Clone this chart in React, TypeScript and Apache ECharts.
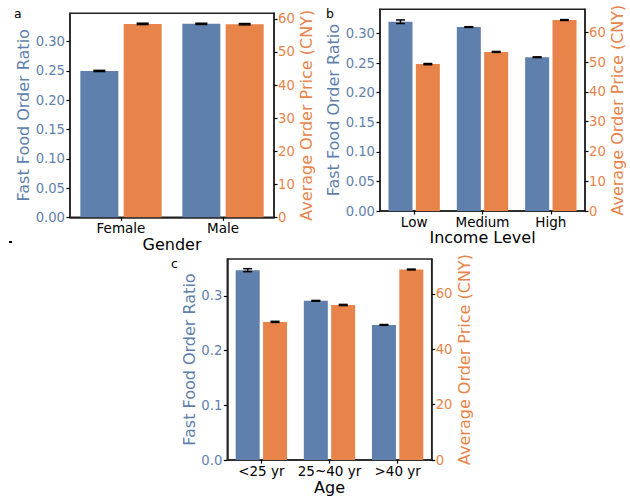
import React, { useEffect, useRef } from "react";
import * as echarts from "echarts";

// ---- data ----
const genderCats = ["Female", "Male"];
const genderRatio = [0.25, 0.3305];
const genderRatioErr = [0.001, 0.001];
const genderPrice = [58.5, 58.4];
const genderPriceErr = [0.2, 0.2];

const incomeCats = ["Low", "Medium", "High"];
const incomeRatio = [0.32, 0.311, 0.26];
const incomeRatioErr = [0.003, 0.0006, 0.0006];
const incomePrice = [49.3, 53.4, 64.1];
const incomePriceErr = [0.2, 0.15, 0.15];

const ageCats = ["<25 yr", "25~40 yr", ">40 yr"];
const ageRatio = [0.347, 0.291, 0.247];
const ageRatioErr = [0.0027, 0.0007, 0.0007];
const agePrice = [49.9, 56.0, 68.8];
const agePriceErr = [0.2, 0.2, 0.15];

const leftTicks = { a: 0.05, b: 0.05, c: 0.1 };
const rightTicks = { a: 10, b: 10, c: 20 };

const BLUE = "#5f7fac";
const ORANGE = "#e8844a";
const FONT = "DejaVu Sans";
const GAP = 0.14;

export default function App() {
  const ref = useRef<HTMLDivElement>(null);
  useEffect(() => {
    if (!ref.current) return;
    const chart = echarts.init(ref.current, null, { renderer: "svg" });

    const panels = [
      {
        key: "a", cats: genderCats, ratio: genderRatio, rErr: genderRatioErr, price: genderPrice, pErr: genderPriceErr,
        grid: { left: 70, top: 13.3, width: 204, height: 204 }, lmax: 0.3485, rmax: 61.7, xname: "Gender",
        bw: 38, cap: 12, lgap: 38, rgap: 22, xgap: 17, dec: 2,
      },
      {
        key: "b", cats: incomeCats, ratio: incomeRatio, rErr: incomeRatioErr, price: incomePrice, pErr: incomePriceErr,
        grid: { left: 380, top: 9.3, width: 205, height: 201.7 }, lmax: 0.341, rmax: 67.7, xname: "Income Level",
        bw: 24, cap: 9, lgap: 37, rgap: 22, xgap: 17, dec: 2,
      },
      {
        key: "c", cats: ageCats, ratio: ageRatio, rErr: ageRatioErr, price: agePrice, pErr: agePriceErr,
        grid: { left: 227.3, top: 259, width: 204.4, height: 201.7 }, lmax: 0.3674, rmax: 72.6, xname: "Age",
        bw: 24, cap: 9, lgap: 29, rgap: 21, xgap: 16.5, dec: 1,
      },
    ];

    const grid: any[] = [];
    const xAxis: any[] = [];
    const yAxis: any[] = [];
    const series: any[] = [];

    const errSeries = (xi: number, yi: number, vals: number[], errs: number[], side: number, bw: number, cap: number) => ({
      type: "custom",
      xAxisIndex: xi,
      yAxisIndex: yi,
      z: 5,
      data: vals.map((v, i) => [i, v, errs[i]]),
      renderItem: (params: any, api: any) => {
        const idx = api.value(0);
        const v = api.value(1);
        const e = api.value(2);
        const c = api.coord([idx, v]);
        const x = c[0] + (side * bw * (1 + GAP)) / 2;
        const t = api.coord([idx, v + e])[1];
        const b = api.coord([idx, v - e])[1];
        const st = { stroke: "#000", lineWidth: 1.5 };
        return {
          type: "group",
          children: [
            { type: "line", shape: { x1: x, y1: t, x2: x, y2: b }, style: st },
            { type: "line", shape: { x1: x - cap / 2, y1: t, x2: x + cap / 2, y2: t }, style: st },
            { type: "line", shape: { x1: x - cap / 2, y1: b, x2: x + cap / 2, y2: b }, style: st },
          ],
        };
      },
    });

    panels.forEach((p, k) => {
      grid.push({ ...p.grid, show: true, borderColor: "#222", borderWidth: 1.5, backgroundColor: "transparent" });
      xAxis.push({
        type: "category",
        gridIndex: k,
        data: p.cats,
        axisLine: { show: true, lineStyle: { color: "#222", width: 1.5 } },
        axisTick: { show: true, alignWithLabel: true, length: 3.5, lineStyle: { color: "#000", width: 1.2 } },
        axisLabel: { color: "#000", fontSize: 13.5, fontFamily: FONT, margin: 4, interval: 0 },
        splitLine: { show: false },
        name: p.xname,
        nameLocation: "middle",
        nameGap: p.xgap,
        nameTextStyle: { color: "#000", fontSize: 16, fontFamily: FONT },
      });
      yAxis.push({
        type: "value",
        gridIndex: k,
        position: "left",
        min: 0,
        max: p.lmax,
        interval: (leftTicks as any)[p.key],
        axisLine: { show: true, lineStyle: { color: "#222", width: 1.5 } },
        axisTick: { show: true, length: 3.5, lineStyle: { color: "#000", width: 1.2 } },
        axisLabel: {
          color: BLUE, fontSize: 13.2, fontFamily: FONT, margin: 5, showMaxLabel: false,
          formatter: (v: number) => v.toFixed(p.dec),
        },
        splitLine: { show: false },
        name: "Fast Food Order Ratio",
        nameLocation: "middle",
        nameRotate: 90,
        nameGap: p.lgap,
        nameTextStyle: { color: BLUE, fontSize: 16, fontFamily: FONT },
      });
      yAxis.push({
        type: "value",
        gridIndex: k,
        position: "right",
        min: 0,
        max: p.rmax,
        interval: (rightTicks as any)[p.key],
        axisLine: { show: true, lineStyle: { color: "#222", width: 1.5 } },
        axisTick: { show: true, length: 3.5, lineStyle: { color: "#000", width: 1.2 } },
        axisLabel: {
          color: ORANGE, fontSize: 13.2, fontFamily: FONT, margin: 4, showMaxLabel: false,
          formatter: (v: number) => String(Math.round(v)),
        },
        splitLine: { show: false },
        name: "Average Order Price (CNY)",
        nameLocation: "middle",
        nameRotate: 90,
        nameGap: p.rgap,
        nameTextStyle: { color: ORANGE, fontSize: 16, fontFamily: FONT },
      });
      const ly = k * 2;
      const ry = k * 2 + 1;
      series.push({
        type: "bar", xAxisIndex: k, yAxisIndex: ly, data: p.ratio, barWidth: p.bw, barGap: GAP * 100 + "%",
        itemStyle: { color: BLUE },
      });
      series.push({
        type: "bar", xAxisIndex: k, yAxisIndex: ry, data: p.price, barWidth: p.bw, barGap: GAP * 100 + "%",
        itemStyle: { color: ORANGE },
      });
      series.push(errSeries(k, ly, p.ratio, p.rErr, -1, p.bw, p.cap));
      series.push(errSeries(k, ry, p.price, p.pErr, 1, p.bw, p.cap));
    });

    chart.setOption({
      animation: false,
      backgroundColor: "#fff",
      grid,
      xAxis,
      yAxis,
      series,
      graphic: [
        { type: "text", left: 14, top: 7, style: { text: "a", fontSize: 12.5, fontFamily: FONT, fill: "#000" } },
        { type: "text", left: 326, top: 7, style: { text: "b", fontSize: 12.5, fontFamily: FONT, fill: "#000" } },
        { type: "text", left: 171, top: 256.5, style: { text: "c", fontSize: 12.5, fontFamily: FONT, fill: "#000" } },
        { type: "rect", left: 9, top: 241, shape: { width: 3, height: 2 }, style: { fill: "#000" } },
      ],
    });
    return () => chart.dispose();
  }, []);
  return (
    <div
      ref={ref}
      style={{ position: "fixed", left: 0, top: 0, width: 630, height: 496 }}
    />
  );
}
